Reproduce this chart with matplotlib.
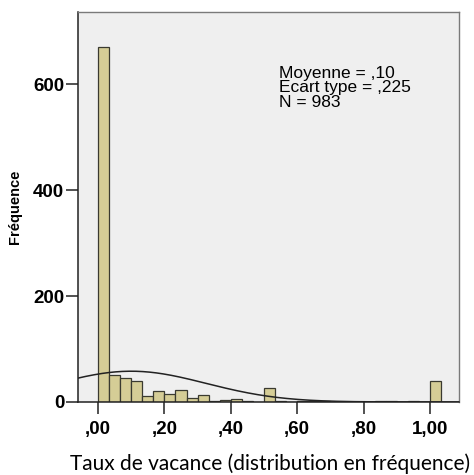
import numpy as np
import matplotlib.pyplot as plt

# histogram bins (width 1/30) and counts
bin_edges = np.arange(32) / 30.0
counts = [670, 50, 45, 40, 12, 21, 16, 23, 7, 14,
          1, 3, 6, 2, 0, 26, 1, 0, 1, 1,
          1, 0, 0, 0, 0, 1, 1, 0, 1, 0,
          40]

moyenne = 0.10
ecart_type = 0.225
n_obs = 983

x_ticks = [0.0, 0.2, 0.4, 0.6, 0.8, 1.0]
x_ticklabels = [",00", ",20", ",40", ",60", ",80", "1,00"]
y_ticks = [0, 200, 400, 600]

fig = plt.figure(figsize=(4.74, 4.75), dpi=100)
ax = fig.add_axes([0.1646, 0.1537, 0.8038, 0.821])
ax.set_facecolor("#efefef")

widths = np.diff(bin_edges)
ax.bar(bin_edges[:-1], counts, width=widths, align="edge",
       color="#d5cd96", edgecolor="#3a3a30", linewidth=0.9, zorder=2)

# courbe normale (SPSS) a partir des stats affichees
xs = np.linspace(-0.07, 1.1, 400)
bw = widths[0]
ys = n_obs * bw / (ecart_type * np.sqrt(2 * np.pi)) * np.exp(-0.5 * ((xs - moyenne) / ecart_type) ** 2)
ax.plot(xs, ys, color="#222222", linewidth=1.1, zorder=3)

ax.set_xlim(-0.06, 1.087)
ax.set_ylim(0, 736)

ax.set_xticks(x_ticks)
ax.set_xticklabels(x_ticklabels)
ax.set_yticks(y_ticks)
for lab in ax.get_xticklabels() + ax.get_yticklabels():
    lab.set_fontfamily("Liberation Sans")
    lab.set_fontweight("bold")
    lab.set_fontsize(13.5)
ax.tick_params(axis="x", direction="out", length=8.5, width=1.1, pad=5, color="#222222")
ax.tick_params(axis="y", direction="out", length=8.5, width=1.1, pad=1.5, color="#222222")

for side in ["left", "bottom"]:
    ax.spines[side].set_color("#222222")
    ax.spines[side].set_linewidth(1.1)
for side in ["top", "right"]:
    ax.spines[side].set_color("#7a7a7a")
    ax.spines[side].set_linewidth(1.0)

ax.set_ylabel("Fréquence", fontfamily="Liberation Sans", fontweight="bold", fontsize=10.5, labelpad=8)

fig.text(279 / 474, 1 - 66 / 475,
         f"Moyenne = ,{int(round(moyenne * 100)):02d}\nEcart type = ,{int(round(ecart_type * 1000))}\nN = {n_obs}",
         fontfamily="Liberation Sans", fontsize=12.5, va="top", ha="left", linespacing=0.95)

fig.text(270 / 474, 1 - 464 / 475, "Taux de vacance (distribution en fréquence)",
         fontfamily="Lato", fontsize=15, ha="center", va="center")

fig.savefig("out.png", dpi=100)
